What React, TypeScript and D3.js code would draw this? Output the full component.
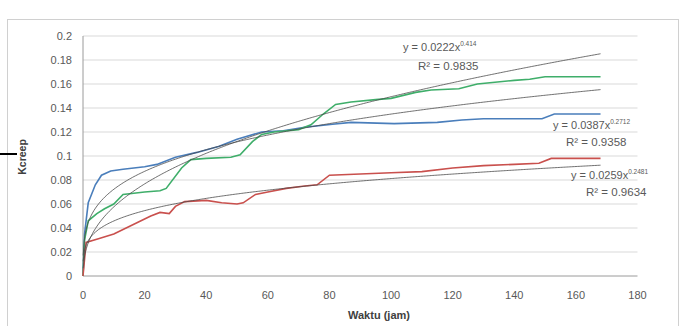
import React from "react";
import * as d3 from "d3";

const xTicks = [0, 20, 40, 60, 80, 100, 120, 140, 160, 180];
const yTicks = [0, 0.02, 0.04, 0.06, 0.08, 0.1, 0.12, 0.14, 0.16, 0.18, 0.2];
const yTickLabels = ["0", "0.02", "0.04", "0.06", "0.08", "0.1", "0.12", "0.14", "0.16", "0.18", "0.2"];

const blueX = [0, 0.5, 1.7, 4, 6, 9, 13, 20, 24, 30, 37, 44, 50, 58, 65, 72, 81, 87, 101, 115, 123, 130, 149, 153, 168];
const blueY = [0, 0.035, 0.061, 0.076, 0.084, 0.0875, 0.089, 0.091, 0.093, 0.099, 0.103, 0.108, 0.114, 0.12, 0.121, 0.124, 0.1265, 0.128, 0.127, 0.128, 0.13, 0.131, 0.131, 0.135, 0.135];

const greenX = [0, 0.5, 1.7, 4.5, 7, 10, 13, 20, 25, 27, 32, 35, 40, 48, 51, 55, 58, 62, 70, 74, 78, 82, 87, 95, 100, 108, 113, 122, 128, 140, 145, 150, 168];
const greenY = [0, 0.03, 0.046, 0.052, 0.056, 0.06, 0.068, 0.07, 0.071, 0.073, 0.09, 0.097, 0.098, 0.099, 0.101, 0.112, 0.118, 0.12, 0.122, 0.126, 0.135, 0.143, 0.145, 0.147, 0.148, 0.153, 0.155, 0.156, 0.16, 0.163, 0.164, 0.166, 0.166];

const redX = [0, 1, 5, 10, 14, 18, 22, 25, 28, 30, 33, 40, 45, 50, 52, 56, 60, 66, 72, 76, 80, 90, 100, 110, 120, 130, 140, 148, 152, 168];
const redY = [0, 0.028, 0.031, 0.035, 0.04, 0.045, 0.05, 0.053, 0.052, 0.058, 0.062, 0.063, 0.061, 0.06, 0.061, 0.068, 0.07, 0.073, 0.075, 0.076, 0.084, 0.085, 0.086, 0.087, 0.09, 0.092, 0.093, 0.094, 0.098, 0.098];

const trendCoef = [0.0387, 0.0222, 0.0259];
const trendExp = [0.2712, 0.414, 0.2481];
const eqCoefLabels = ["0.0387", "0.0222", "0.0259"];
const eqExpLabels = ["0.2712", "0.414", "0.2481"];
const r2Labels = ["0.9358", "0.9835", "0.9634"];

const seriesColors = ["#4a7ebb", "#3fae6a", "#c9504d"];

export default function App() {
  const x = d3.scaleLinear().domain([0, 180]).range([83, 637.5]);
  const y = d3.scaleLinear().domain([0, 0.2]).range([276, 36]);

  const series = [
    { xs: blueX, ys: blueY },
    { xs: greenX, ys: greenY },
    { xs: redX, ys: redY },
  ];
  const line = d3
    .line<[number, number]>()
    .x((d) => x(d[0]))
    .y((d) => y(d[1]));

  const trendXs = d3.range(0.05, 168.01, 0.5).concat([168]);
  const trendPaths = trendCoef.map((c, i) =>
    line(trendXs.map((t) => [t, c * Math.pow(t, trendExp[i])] as [number, number]))
  );

  const eqPos = [
    { ex: 553, ey: 129, rx: 566, ry: 146 },
    { ex: 403, ey: 51, rx: 418, ry: 70 },
    { ex: 571, ey: 179, rx: 586, ry: 196 },
  ];

  const font = "'Liberation Sans', Arial, sans-serif";
  const txt = "#595959";

  return (
    <svg width={683} height={326} style={{ position: "absolute", left: 0, top: 0, background: "#fff" }}>
      <rect x={7.5} y={19.5} width={671} height={320} fill="#fff" stroke="#d0d0d0" />
      <line x1={0} x2={17} y1={154} y2={154} stroke="#000" strokeWidth={2} />
      {yTicks.map((t, i) =>
        i === 0 ? null : (
          <line key={"g" + i} x1={83} x2={637.5} y1={y(t)} y2={y(t)} stroke="#d9d9d9" strokeWidth={1.2} />
        )
      )}
      <line x1={83} x2={83} y1={36} y2={276} stroke="#9a9a9a" />
      <line x1={83} x2={637.5} y1={276} y2={276} stroke="#9a9a9a" />
      {yTicks.map((t, i) => (
        <text key={"yl" + i} x={72} y={y(t) + 4} textAnchor="end" fontFamily={font} fontSize={11} fill={txt}>
          {yTickLabels[i]}
        </text>
      ))}
      {xTicks.map((t, i) => (
        <text key={"xl" + i} x={x(t)} y={299} textAnchor="middle" fontFamily={font} fontSize={11} fill={txt}>
          {t}
        </text>
      ))}
      <text
        transform="translate(26,157) rotate(-90)"
        textAnchor="middle"
        fontFamily={font}
        fontSize={10.5}
        fontWeight="bold"
        fill="#404040"
      >
        Kcreep
      </text>
      <text x={379} y={319} textAnchor="middle" fontFamily={font} fontSize={11} fontWeight="bold" fill="#404040">
        Waktu (jam)
      </text>
      {series.map((s, i) => (
        <path
          key={"s" + i}
          d={line(s.xs.map((v, j) => [v, s.ys[j]] as [number, number])) || ""}
          fill="none"
          stroke={seriesColors[i]}
          strokeWidth={1.6}
        />
      ))}
      {trendPaths.map((p, i) => (
        <path key={"t" + i} d={p || ""} fill="none" stroke="#4a4a4a" strokeWidth={0.8} />
      ))}
      {eqPos.map((p, i) => (
        <g key={"eq" + i} fontFamily={font} fill={txt}>
          <text x={p.ex} y={p.ey} fontSize={11}>
            y = {eqCoefLabels[i]}x
            <tspan fontSize={6.5} dy={-5}>
              {eqExpLabels[i]}
            </tspan>
          </text>
          <text x={p.rx} y={p.ry} fontSize={11.5}>
            R² = {r2Labels[i]}
          </text>
        </g>
      ))}
    </svg>
  );
}
